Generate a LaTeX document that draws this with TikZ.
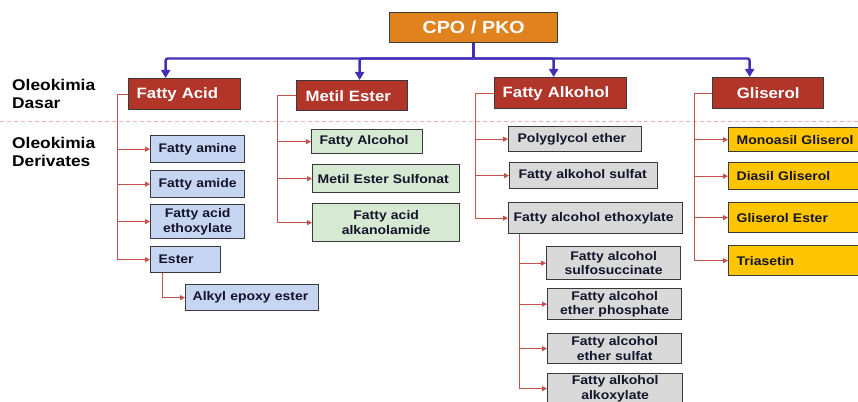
\documentclass[tikz,border=0pt]{standalone}
\usepackage{fontspec}
\setmainfont{Liberation Sans}[FakeStretch=1.12]
\usetikzlibrary{arrows.meta}

\definecolor{cpoorange}{HTML}{E0821E}
\definecolor{catred}{HTML}{B2352A}
\definecolor{busblue}{HTML}{4030B8}
\definecolor{linkred}{HTML}{C8504A}
\definecolor{kidblue}{HTML}{C6D6F2}
\definecolor{kidgreen}{HTML}{D6E9D3}
\definecolor{kidgray}{HTML}{D9D9D9}
\definecolor{kidyellow}{HTML}{FFC600}
\definecolor{edgegray}{HTML}{3A3A3A}
\definecolor{inkdark}{HTML}{14142A}
\definecolor{sepline}{HTML}{E8B4AC}

\newcommand\kidfont{\fontsize{12.5}{14.5}\selectfont\bfseries}
\newcommand\catfont{\fontsize{15}{17}\selectfont\bfseries}

% box placed by its corners, text centred: style, name, x1, y1, x2, y2, text
\newcommand\placebox[7]{%
  \pgfmathsetmacro\bw{#5-#3}%
  \pgfmathsetmacro\bh{#6-#4}%
  \node[#1, anchor=north west, minimum width=\bw pt, minimum height=\bh pt,
        text width=\bw pt, align=center] (#2) at (#3,#4) {#7};}
% box placed by its corners, one line of text set from the left:
% style, name, x1, y1, x2, y2, left padding, text
\newcommand\placeleft[8]{%
  \pgfmathsetmacro\bw{#5-#3}%
  \pgfmathsetmacro\bh{#6-#4}%
  \node[#1, anchor=north west, minimum width=\bw pt, minimum height=\bh pt,
        text width=\bw pt, align=left] (#2) at (#3,#4) {\hspace*{#7pt}\mbox{#8}};}

\tikzset{
  basebox/.style={draw=edgegray, line width=1.3pt, inner xsep=0pt, inner ysep=0pt},
  catbox/.style={basebox, fill=catred, text=white, font=\catfont},
  kid/.style={basebox, text=inkdark, font=\kidfont},
  bus/.style={draw=busblue, line width=2.4pt, rounded corners=2pt},
  busarrow/.style={bus, -{Triangle[width=9pt,length=8pt]}},
  link/.style={draw=linkred, line width=1pt, -{Triangle[width=5pt,length=5pt]}},
  sidelabel/.style={anchor=north west, align=left, inner sep=0pt, text=black,
    font=\fontsize{15.5}{18}\selectfont\bfseries},
}

\begin{document}
\begin{tikzpicture}[x=1pt, y=-1pt]
\useasboundingbox (0,0) rectangle (858,401);
\clip (0,0) rectangle (858,401);

% level separator
\draw[sepline, line width=1pt, dash pattern=on 4pt off 3pt] (0,121) -- (858,121);

% row labels
\node[sidelabel] (lbasic) at (12,79) {Oleokimia\\Dasar};
\node[sidelabel] (lderiv) at (12,137.5) {Oleokimia\\Derivates};

% source
\placebox{catbox, fill=cpoorange, font=\fontsize{17.5}{20}\selectfont\bfseries}{cpo}{389}{12}{557}{42}{CPO / PKO}

% basic oleochemicals
\placeleft{catbox}{fa}{128}{78}{240}{109}{8}{Fatty Acid}
\placeleft{catbox}{me}{296}{80}{407}{110}{9}{Metil Ester}
\placeleft{catbox}{fak}{494}{77}{626}{108}{8}{Fatty Alkohol}
\placebox{catbox}{gl}{712}{77}{823}{108}{Gliserol}

% bus from the source to the four groups
\coordinate (hub) at (cpo.south |- 0,58.5);
\draw[bus] (cpo.south) -- (hub);
\draw[busarrow] (hub) -| ([xshift=-19pt]fa.north);
\draw[busarrow] (hub) -| ([xshift=7.5pt]me.north);
\draw[busarrow] (hub) -| ([xshift=-7pt]fak.north);
\draw[busarrow] (hub) -| ([xshift=-18.5pt]gl.north);

% fatty acid derivatives
\placeleft{kid, fill=kidblue}{amine}{150}{135}{244}{162}{8}{Fatty amine}
\placeleft{kid, fill=kidblue}{amide}{150}{170}{244}{197}{8}{Fatty amide}
\placebox{kid, fill=kidblue}{faeth}{150}{204}{244}{238}{Fatty acid\\ethoxylate}
\placeleft{kid, fill=kidblue}{ester}{150}{246}{220}{272}{8}{Ester}
\placeleft{kid, fill=kidblue}{epoxy}{185}{284}{318}{310}{7}{Alkyl epoxy ester}
\foreach \k in {amine,amide,faeth,ester}
  \draw[link] (fa.west) -- ([xshift=-11pt]fa.west) |- (\k.west);
\draw[link] ([xshift=12pt]ester.south west) |- (epoxy.west);

% methyl ester derivatives
\placeleft{kid, fill=kidgreen}{falc}{311}{129}{422}{153}{8}{Fatty Alcohol}
\placeleft{kid, fill=kidgreen}{mes}{312}{164}{459}{192}{5}{Metil Ester Sulfonat}
\placebox{kid, fill=kidgreen}{alkan}{312}{203}{459}{241}{Fatty acid\\alkanolamide}
\foreach \k in {falc,mes,alkan}
  \draw[link] (me.west) -- ([xshift=-19pt]me.west) |- (\k.west);

% fatty alcohol derivatives
\placeleft{kid, fill=kidgray}{poly}{508}{126}{641}{151}{9}{Polyglycol ether}
\placeleft{kid, fill=kidgray}{sulfat}{509}{162}{657}{188}{9}{Fatty alkohol sulfat}
\placeleft{kid, fill=kidgray}{eth}{508}{202}{682}{233}{5}{Fatty alcohol ethoxylate}
\foreach \k in {poly,sulfat,eth}
  \draw[link] (fak.west) -- ([xshift=-19pt]fak.west) |- (\k.west);

% ethoxylate derivatives
\placebox{kid, fill=kidgray}{sulfo}{546}{246}{680}{279}{Fatty alcohol\\sulfosuccinate}
\placebox{kid, fill=kidgray}{phos}{547}{288}{681}{319}{Fatty alcohol\\ether phosphate}
\placebox{kid, fill=kidgray}{esulf}{547}{333}{681}{363}{Fatty alcohol\\ether sulfat}
\placebox{kid, fill=kidgray}{alkox}{547}{373}{682}{403}{Fatty alkohol\\alkoxylate}
\foreach \k in {sulfo,phos,esulf,alkox}
  \draw[link] ([xshift=11pt]eth.south west) |- (\k.west);

% glycerol derivatives
\placeleft{kid, fill=kidyellow}{mono}{728}{127}{861}{151}{8}{Monoasil Gliserol}
\placeleft{kid, fill=kidyellow}{dias}{728}{162}{861}{189}{8}{Diasil Gliserol}
\placeleft{kid, fill=kidyellow}{glest}{728}{202}{861}{232}{8}{Gliserol Ester}
\placeleft{kid, fill=kidyellow}{tria}{728}{245}{861}{275}{8}{Triasetin}
\foreach \k in {mono,dias,glest,tria}
  \draw[link] (gl.west) -- ([xshift=-18pt]gl.west) |- (\k.west);
\end{tikzpicture}
\end{document}
